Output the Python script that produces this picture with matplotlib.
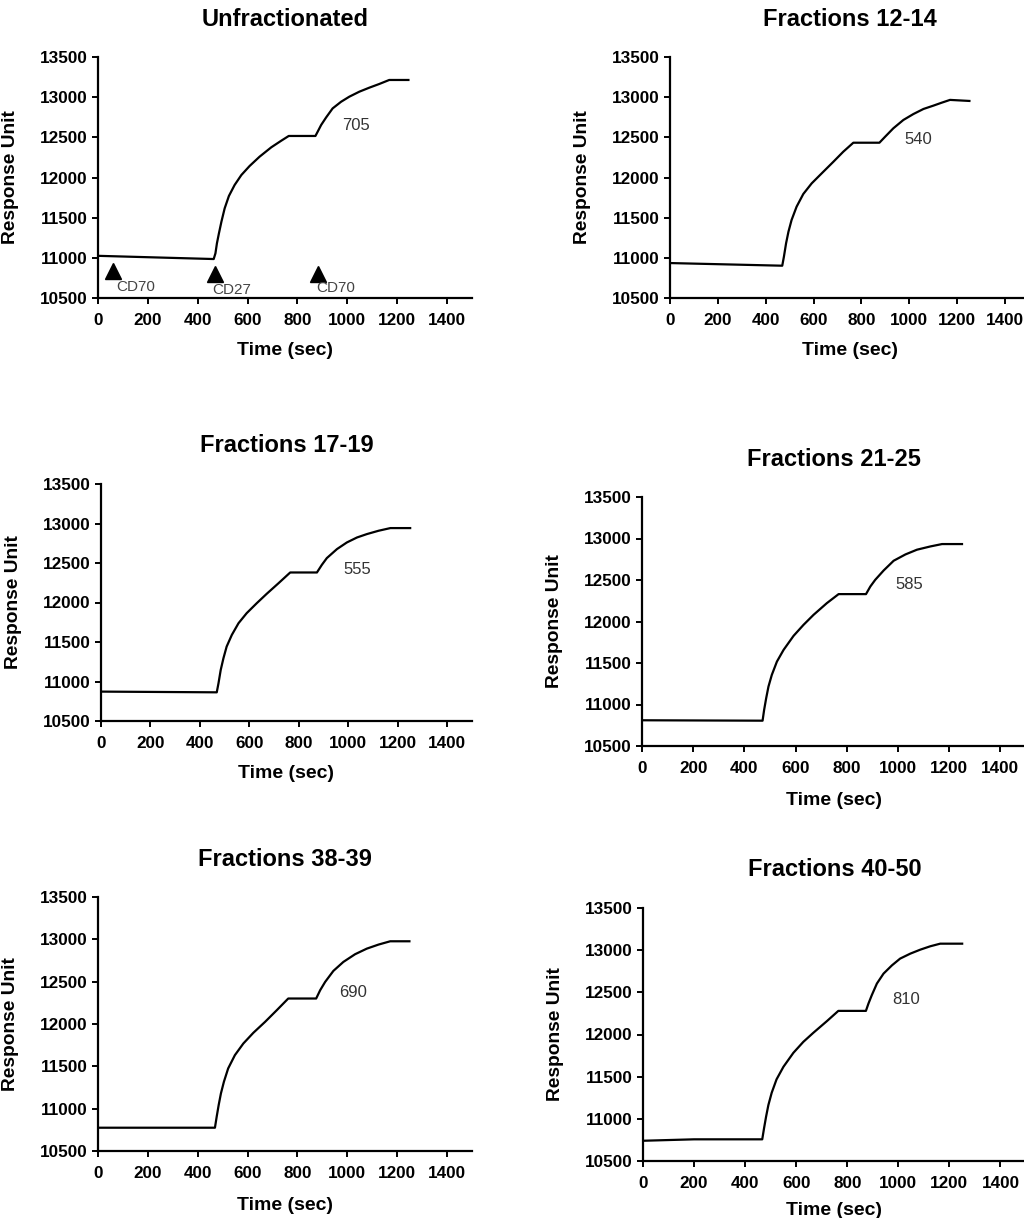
import matplotlib
matplotlib.use("Agg")
from matplotlib import pyplot as plt

plt.rcParams["font.family"] = ["Liberation Sans", "DejaVu Sans"]

# sensorgram traces (time in sec, response units)
t_unfrac = [0, 464, 471, 477, 485, 495, 508, 525, 548, 575, 608, 648, 695, 735, 765,
            872, 881, 895, 915, 941, 975, 1008, 1048, 1088, 1128, 1168, 1245]
ru_unfrac = [11025, 10985, 11056, 11181, 11305, 11450, 11616, 11770, 11907, 12031,
             12143, 12259, 12376, 12458, 12517, 12517, 12570, 12654, 12748, 12860,
             12943, 13006, 13068, 13118, 13164, 13214, 13214]

t_f12 = [0, 469, 476, 485, 495, 508, 529, 557, 592, 634, 683, 724, 766,
         875, 899, 933, 975, 1017, 1059, 1100, 1135, 1170, 1251]
ru_f12 = [10935, 10902, 11015, 11181, 11326, 11471, 11637, 11795, 11927, 12052,
          12197, 12321, 12433, 12433, 12508, 12612, 12716, 12790, 12853, 12894,
          12931, 12966, 12953]

t_f17 = [0, 468, 475, 484, 495, 508, 529, 556, 589, 630, 670, 718, 765,
         873, 893, 913, 954, 994, 1035, 1075, 1122, 1170, 1250]
ru_f17 = [10872, 10863, 10977, 11146, 11294, 11442, 11590, 11738, 11865, 11992,
          12110, 12245, 12380, 12380, 12477, 12562, 12676, 12760, 12823, 12866,
          12908, 12942, 12942]

t_f21 = [0, 471, 477, 485, 494, 507, 527, 553, 592, 631, 670, 722, 768,
         875, 892, 911, 944, 983, 1029, 1074, 1126, 1172, 1250]
ru_f21 = [10810, 10805, 10934, 11075, 11216, 11356, 11517, 11658, 11827, 11960,
          12080, 12221, 12330, 12330, 12422, 12502, 12615, 12732, 12808, 12865,
          12904, 12933, 12933]

t_f38 = [0, 469, 476, 484, 493, 505, 522, 549, 583, 623, 670, 717, 763,
         875, 891, 911, 944, 984, 1031, 1078, 1125, 1172, 1249]
ru_f38 = [10775, 10775, 10905, 11043, 11180, 11318, 11475, 11632, 11770, 11896,
          12025, 12163, 12301, 12301, 12399, 12497, 12627, 12733, 12824, 12890,
          12938, 12977, 12977]

t_f40 = [0, 200, 467, 474, 482, 491, 504, 523, 550, 589, 628, 667, 720, 765,
         873, 883, 896, 916, 942, 975, 1007, 1047, 1086, 1125, 1164, 1250]
ru_f40 = [10740, 10757, 10757, 10887, 11025, 11163, 11309, 11468, 11617, 11783,
          11913, 12020, 12158, 12280, 12280, 12367, 12466, 12604, 12722, 12820,
          12900, 12959, 13006, 13046, 13077, 13077]

titles = ["Unfractionated", "Fractions 12-14", "Fractions 17-19",
          "Fractions 21-25", "Fractions 38-39", "Fractions 40-50"]
delta_labels = ["705", "540", "555", "585", "690", "810"]
delta_pos = [(1035, 12650), (1038, 12476), (1035, 12423),
             (1044, 12442), (1022, 12367), (1030, 12415)]

# injection markers on the first panel
inj_times = [61, 468, 881]
inj_ru = [10840, 10800, 10800]
inj_names = ["CD70", "CD27", "CD70"]
inj_name_pos = [(75, 10640), (460, 10600), (877, 10620)]

x_ticks = [0, 200, 400, 600, 800, 1000, 1200, 1400]
y_ticks = [10500, 11000, 11500, 12000, 12500, 13000, 13500]

W, H = 1024, 1218
# axes boxes in pixels: left, top, right, bottom
boxes = [
    (98, 57, 472, 298),
    (670, 57, 1029, 298),
    (101, 484, 472, 721),
    (642, 497, 1026, 746),
    (98, 897, 472, 1151),
    (643, 908, 1026, 1161),
]
# distance of "Time (sec)" below each axes, px
xlabel_drop = [44, 44, 44, 46, 46, 41]

traces = [(t_unfrac, ru_unfrac), (t_f12, ru_f12), (t_f17, ru_f17),
          (t_f21, ru_f21), (t_f38, ru_f38), (t_f40, ru_f40)]

fig = plt.figure(figsize=(W / 100, H / 100), dpi=100)

for i, (box, (t, ru)) in enumerate(zip(boxes, traces)):
    l, tp, r, b = box
    ax = fig.add_axes([l / W, 1 - b / H, (r - l) / W, (b - tp) / H])
    ax.plot(t, ru, color="black", lw=1.6, solid_joinstyle="round")
    ax.set_xlim(0, 1500)
    ax.set_ylim(10500, 13500)
    ax.set_xticks(x_ticks)
    ax.set_yticks(y_ticks)
    for s in ["top", "right"]:
        ax.spines[s].set_visible(False)
    for s in ["left", "bottom"]:
        ax.spines[s].set_linewidth(1.6)
    ax.tick_params(axis="both", direction="out", length=4.5, width=1.4,
                   labelsize=12.3)
    ax.tick_params(axis="x", pad=6)
    ax.tick_params(axis="y", pad=3)
    for lab in ax.get_xticklabels() + ax.get_yticklabels():
        lab.set_fontweight("bold")

    ax.set_xlabel("Time (sec)", fontsize=14, fontweight="bold")
    ax.set_ylabel("Response Unit", fontsize=13.8, fontweight="bold")
    w_px, h_px = r - l, b - tp
    ax.xaxis.set_label_coords(0.5, -xlabel_drop[i] / h_px)
    ax.yaxis.set_label_coords(-79 / w_px, 0.5)

    ax.annotate(titles[i], xy=(0.5, 1), xycoords="axes fraction",
                xytext=(0, 38 * 0.72), textcoords="offset points",
                ha="center", va="center", fontsize=17, fontweight="bold")

    ax.text(delta_pos[i][0], delta_pos[i][1], delta_labels[i], fontsize=12,
            color="#333333", ha="center", va="center")

    if i == 0:
        ax.plot(inj_times, inj_ru, linestyle="none", marker="^",
                markersize=11, color="black", clip_on=False)
        for name, (tx, ty) in zip(inj_names, inj_name_pos):
            ax.text(tx, ty, name, fontsize=11, color="#444444",
                    ha="left", va="center")

fig.savefig("out.png", dpi=100)
